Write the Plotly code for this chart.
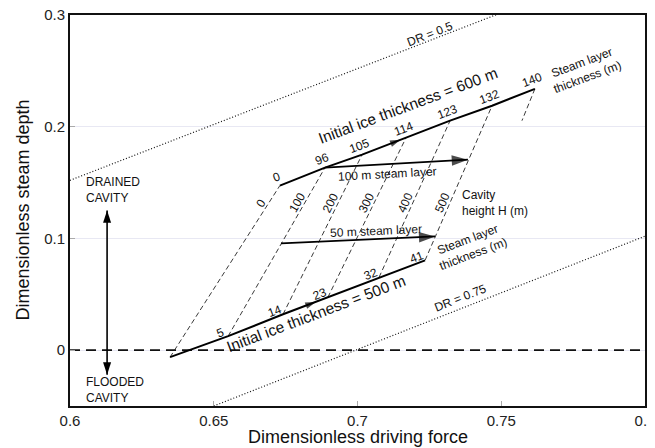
import math
import plotly.graph_objects as go

# ---------------- data ----------------
x_ticks = [0.6, 0.65, 0.7, 0.75, 0.8]
x_tick_text = ["0.6", "0.65", "0.7", "0.75", "0.8"]
y_ticks = [0, 0.1, 0.2, 0.3]
y_tick_text = ["0", "0.1", "0.2", "0.3"]

# Initial ice thickness = 600 m curve (nodes where cavity-height lines meet it)
ice600_x = [0.6730, 0.6887, 0.7016, 0.7169, 0.7322, 0.7468, 0.7617]
ice600_y = [0.1473, 0.1634, 0.1750, 0.1902, 0.2054, 0.2188, 0.2339]
ice600_labels = ["0", "96", "105", "114", "123", "132", "140"]

# Initial ice thickness = 500 m curve
ice500_x = [0.6348, 0.6550, 0.6741, 0.6897, 0.7075, 0.7235]
ice500_y = [-0.0063, 0.0125, 0.0321, 0.0473, 0.0652, 0.0804]
ice500_labels = ["", "5", "14", "23", "32", "41"]

# cavity height H (m) for the dashed lines joining the two curves
cavity_heights = [0, 100, 200, 300, 400, 500]

# short dashed extension below the 140 m node
ext140_x = [0.7617, 0.7572]
ext140_y = [0.2339, 0.2054]

# steam layer arrows
steam100_x = [0.6887, 0.7384]
steam100_y = [0.1634, 0.1705]
steam50_x = [0.6734, 0.7270]
steam50_y = [0.0955, 0.1018]

# DR contour lines
dr05_x = [0.60, 0.75]
dr05_y = [0.152, 0.302]
dr075_x = [0.65, 0.80]
dr075_y = [-0.05, 0.102]

# drained / flooded double arrow
drain_x = [0.6129, 0.6129]
drain_y = [0.125, -0.022]

# ---------------- layout constants ----------------
# the page body has an 8px margin, so the figure is 8px smaller than the window
W, H = 647, 440
ML, MR, MT, MB = 62, 10, 7, 42
XR = [0.6, 0.8]
YR = [-0.05, 0.3]
PX = (W - ML - MR) / (XR[1] - XR[0])   # px per x unit
PY = (H - MT - MB) / (YR[1] - YR[0])   # px per y unit
FONT = "Liberation Sans, Arial, sans-serif"


def screen_angle(x0, y0, x1, y1):
    return -math.degrees(math.atan2((y1 - y0) * PY, (x1 - x0) * PX))


fig = go.Figure()

# DR dotted lines
for xs, ys in [(dr05_x, dr05_y), (dr075_x, dr075_y)]:
    fig.add_trace(go.Scatter(x=xs, y=ys, mode="lines",
                             line=dict(color="#111", width=1.2, dash="1px,2px")))

# zero line (dashed)
fig.add_trace(go.Scatter(x=XR, y=[0, 0], mode="lines",
                         line=dict(color="#111", width=1.6, dash="10px,6px")))

# cavity height dashed lines
hx, hy = [], []
for i in range(len(cavity_heights)):
    hx += [ice500_x[i], ice600_x[i], None]
    hy += [ice500_y[i], ice600_y[i], None]
hx += ext140_x
hy += ext140_y
fig.add_trace(go.Scatter(x=hx, y=hy, mode="lines",
                         line=dict(color="#222", width=0.9, dash="5px,3px")))


# ice thickness curves with an arrowhead part way
def ice_trace(xs, ys, arrow_idx, standoff, size):
    sizes = [size if i == arrow_idx else 0 for i in range(len(xs))]
    stand = [standoff if i == arrow_idx else 0 for i in range(len(xs))]
    return go.Scatter(x=xs, y=ys, mode="lines+markers",
                      line=dict(color="#000", width=2.0, backoff=0),
                      marker=dict(symbol="arrow", size=sizes, standoff=stand,
                                  angleref="previous", color="#000",
                                  line=dict(width=0)))


fig.add_trace(ice_trace(ice600_x, ice600_y, 3, 6, 11))
fig.add_trace(ice_trace(ice500_x, ice500_y, 3, 13, 11))

# steam layer arrows
for xs, ys in [(steam100_x, steam100_y), (steam50_x, steam50_y)]:
    fig.add_trace(go.Scatter(x=xs, y=ys, mode="lines+markers",
                             line=dict(color="#000", width=1.8, backoff=0),
                             marker=dict(symbol="arrow", size=[0, 17],
                                         angleref="previous", color="#000",
                                         line=dict(width=0))))

# drained/flooded double arrow
fig.add_trace(go.Scatter(x=drain_x, y=drain_y, mode="lines+markers",
                         line=dict(color="#000", width=1.6),
                         marker=dict(symbol="arrow", size=13, angle=[0, 180],
                                     color="#000", line=dict(width=0))))

ann = []


def label(x, y, text, size=12, angle=0, xshift=0, yshift=0, xanchor="center", align="center"):
    ann.append(dict(x=x, y=y, xref="x", yref="y", text=text, showarrow=False,
                    textangle=angle, xshift=xshift, yshift=yshift, xanchor=xanchor,
                    yanchor="middle", align=align,
                    font=dict(family=FONT, size=size, color="#111")))


ang600 = screen_angle(ice600_x[1], ice600_y[1], ice600_x[-1], ice600_y[-1])
ang500 = screen_angle(ice500_x[0], ice500_y[0], ice500_x[-1], ice500_y[-1])

for x, y, t in zip(ice600_x, ice600_y, ice600_labels):
    label(x, y, t, 12, ang600, xshift=-3, yshift=9)
for x, y, t in zip(ice500_x, ice500_y, ice500_labels):
    if t:
        label(x, y, t, 12, ang500, xshift=-8, yshift=3)

# cavity height labels along the dashed lines
H_LABEL_Y = 0.132
for i, hval in enumerate(cavity_heights):
    x0, y0, x1, y1 = ice500_x[i], ice500_y[i], ice600_x[i], ice600_y[i]
    xl = x0 + (H_LABEL_Y - y0) / (y1 - y0) * (x1 - x0)
    label(xl, H_LABEL_Y, str(hval), 12, screen_angle(x0, y0, x1, y1), xshift=-8)

label(0.7176, 0.2188, "Initial ice thickness = 600 m", 15.5, ang600)
label(0.6856, 0.0330, "Initial ice thickness = 500 m", 15.5, ang500)
label(0.7790, 0.2509, "Steam layer<br>thickness (m)", 12, ang600)
label(0.7392, 0.0920, "Steam layer<br>thickness (m)", 12, ang500)
label(0.7357, 0.1321, "Cavity<br>height H (m)", 12, 0, xanchor="left", align="left")
label(0.7106, 0.1575, "100 m steam layer", 12,
      screen_angle(steam100_x[0], steam100_y[0], steam100_x[1], steam100_y[1]))
label(0.7064, 0.1063, "50 m steam layer", 12,
      screen_angle(steam50_x[0], steam50_y[0], steam50_x[1], steam50_y[1]))
label(0.7252, 0.2830, "DR = 0.5", 12, screen_angle(dr05_x[0], dr05_y[0], dr05_x[1], dr05_y[1]))
label(0.7357, 0.0470, "DR = 0.75", 12, screen_angle(dr075_x[0], dr075_y[0], dr075_x[1], dr075_y[1]))
label(0.6049, 0.1438, "DRAINED<br>CAVITY", 12, 0, xanchor="left", align="left")
label(0.6049, -0.0360, "FLOODED<br>CAVITY", 12, 0, xanchor="left", align="left")

# axis titles
ann.append(dict(x=0.5, y=-31 / (H - MT - MB), xref="paper", yref="paper",
                text="Dimensionless driving force", showarrow=False,
                xanchor="center", yanchor="middle",
                font=dict(family=FONT, size=18, color="#111")))
ann.append(dict(x=-48 / (W - ML - MR), y=0.5, xref="paper", yref="paper",
                text="Dimensionless steam depth", showarrow=False, textangle=-90,
                xanchor="center", yanchor="middle",
                font=dict(family=FONT, size=18, color="#111")))

fig.update_layout(
    width=W, height=H, margin=dict(l=ML, r=MR, t=MT, b=MB),
    paper_bgcolor="white", plot_bgcolor="white", showlegend=False,
    annotations=ann,
    font=dict(family=FONT),
)
fig.update_xaxes(range=XR, tickvals=x_ticks, ticktext=x_tick_text,
                 showgrid=False, zeroline=False, automargin=False,
                 ticklabeloverflow="allow",
                 showline=True, linecolor="#111", linewidth=1.8, mirror=True,
                 ticks="inside", ticklen=5, tickcolor="#aaa", tickwidth=1,
                 tickfont=dict(family=FONT, size=15, color="#222"))
fig.update_yaxes(range=YR, tickvals=y_ticks, ticktext=y_tick_text,
                 showgrid=True, gridcolor="#e8e8f3", gridwidth=1,
                 zeroline=False, automargin=False,
                 ticklabeloverflow="allow",
                 showline=True, linecolor="#111", linewidth=1.8, mirror=True,
                 ticks="inside", ticklen=5, tickcolor="#aaa", tickwidth=1,
                 tickfont=dict(family=FONT, size=15, color="#222"))

fig.write_html("out.html")
